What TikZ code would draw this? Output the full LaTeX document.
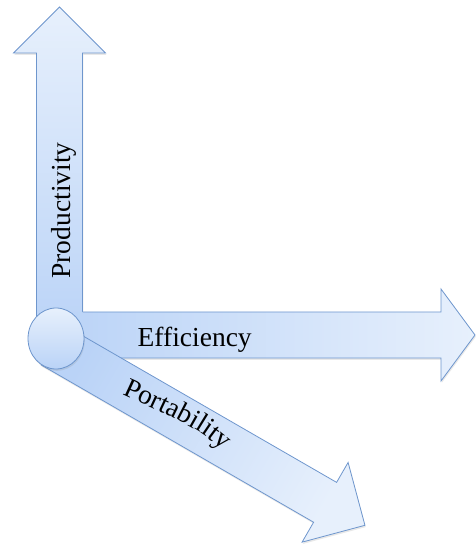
\documentclass[tikz,border=0pt]{standalone}
\usepackage{fontspec}
\setmainfont{Liberation Serif}
\usetikzlibrary{decorations.text,shadows}
\definecolor{rand}{RGB}{110,150,205}
\definecolor{dunkel}{RGB}{186,211,247}
\definecolor{hell}{RGB}{231,240,252}
\begin{document}
\def\w{23}
\def\W{46}
\def\schrift{\rmfamily\fontsize{27.5}{32}\selectfont}
\def\pfeil#1#2#3#4#5#6{
\shade[top color=hell, bottom color=dunkel, shading angle={#2-90}, shift={#1}, rotate=#2,
	drop shadow={opacity=0.18, shadow xshift=0.8pt, shadow yshift=-1.8pt}]
	(0,-\w) -- ({#3-#4},-\w) -- ({#3-#4},-\W) -- (#3,0)
	-- ({#3-#4},\W) -- ({#3-#4},\w) -- (0,\w) -- cycle;
\draw[color=rand, shift={#1}, rotate=#2]
	(#5,-\w) -- ({#3-#4},-\w) -- ({#3-#4},-\W) -- (#3,0)
	-- ({#3-#4},\W) -- ({#3-#4},\w) -- (#6,\w);
}

\begin{tikzpicture}[x=1pt,y=1pt,thick,every node/.style={font=\schrift}]
\useasboundingbox (-56,-205.5) rectangle (420,338.5);
\pfeil{(3.5,0)}{90}{331.5}{46}{26.5}{0}
\pfeil{(0,3.5)}{0}{419}{34}{65}{26.5}
\pfeil{(-3.7,-6.3)}{-30}{361}{46}{0}{0}
\shade[top color=hell, bottom color=dunkel, draw=rand,
	drop shadow={opacity=0.18, shadow xshift=0.8pt, shadow yshift=-1.8pt}]
	(0,0) ellipse [x radius=28, y radius=30.5];
\node[rotate=90, anchor=base] (prod) at (15,128) {Productivity};
\node[anchor=base] (eff) at (138.7,-8.2) {Efficiency};
\path[decorate, decoration={text along path, text={|\schrift|Portability}, text align=center}]
	(54,-50) .. controls (142.6,-90.5) .. (178,-121);
\end{tikzpicture}
\end{document}
